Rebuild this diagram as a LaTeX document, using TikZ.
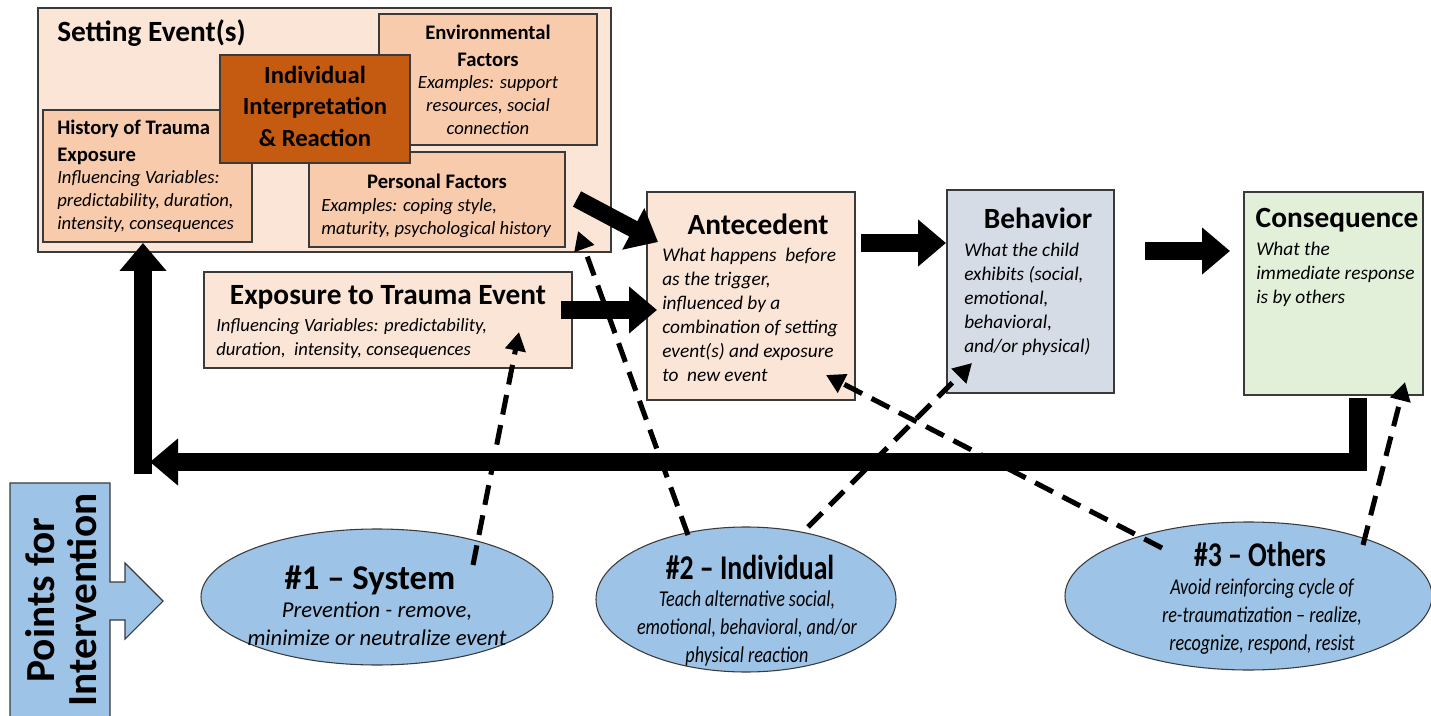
\documentclass[tikz,border=0pt]{standalone}
\usepackage{fontspec}
\setmainfont{Carlito}
\newfontfamily\condfont[FakeStretch=0.8,Ligatures=TeX]{Carlito}
\usetikzlibrary{arrows.meta,shapes.geometric}
\definecolor{peachL}{HTML}{FBE5D6}
\definecolor{peachM}{HTML}{F8CBAD}
\definecolor{rust}{HTML}{C55A11}
\definecolor{grayblue}{HTML}{D6DCE5}
\definecolor{greenL}{HTML}{E2F0D9}
\definecolor{blueE}{HTML}{9DC3E6}
\definecolor{edge}{HTML}{3A3A3A}
\begin{document}
\begin{tikzpicture}[x=0.75pt,y=-0.75pt,
  box/.style={draw=edge,line width=0.8pt,inner sep=0pt,rectangle},
  ell/.style={draw=edge,line width=0.8pt,fill=blueE,ellipse,inner sep=0pt},
  title/.style={font=\fontsize{22}{26}\selectfont\bfseries,inner sep=0pt},
  subhead/.style={font=\fontsize{15.5}{20}\selectfont\bfseries,inner sep=0pt},
  body/.style={font=\fontsize{14}{17.5}\selectfont\itshape,inner sep=0pt},
  bigarrow/.style={line width=13pt,-{Triangle[length=21pt,width=34pt]}},
  dasharrow/.style={line width=3.8pt,dash pattern=on 15pt off 8pt,-{Triangle[length=14pt,width=15pt]}}
]
\useasboundingbox (0,0) rectangle (1431,716);

% Setting events cluster
\node[box,fill=peachL,minimum width=429.75pt,minimum height=183pt] (setting) at (324.5,130) {};
\node[title,anchor=north west] (settingT) at (57,19) {Setting Event(s)};
\node[box,fill=peachM,minimum width=163.5pt,minimum height=98.25pt] (env) at (488,79.5) {};
\node[subhead,anchor=north,align=center] (envT) at (488,25) {Environmental\\Factors};
\node[body,anchor=north,align=center] (envB) at (488,75) {Examples: support\\resources, social\\connection};
\node[box,fill=peachM,minimum width=156.75pt,minimum height=99pt] (hist) at (147.5,176) {};
\node[subhead,anchor=north west,align=left] (histT) at (57,120) {History of Trauma\\Exposure};
\node[body,anchor=north west,align=left] (histB) at (57,170) {Influencing Variables:\\predictability, duration,\\intensity, consequences};
\node[box,fill=peachM,minimum width=192pt,minimum height=71.25pt] (pers) at (437,199.5) {};
\node[subhead,anchor=north] (persT) at (437,174) {Personal Factors};
\node[body,anchor=north west,align=left] (persB) at (321,198) {Examples: coping style,\\maturity, psychological history};
\node[box,fill=rust,minimum width=142.5pt,minimum height=81pt] (indiv) at (315,109) {};
\node[font=\fontsize{18.5}{23.5}\selectfont\bfseries,inner sep=0pt,anchor=north,align=center] (indivT) at (315,66) {Individual\\Interpretation\\\& Reaction};

% Exposure box
\node[box,fill=peachL,minimum width=276pt,minimum height=72pt] (expo) at (388,320) {};
\node[title,anchor=north] (expoT) at (388,285) {Exposure to Trauma Event};
\node[body,anchor=north west,align=left,font=\fontsize{14}{18}\selectfont\itshape] (expoB) at (216,318) {Influencing Variables: predictability,\\duration,\ \ intensity, consequences};

% ABC boxes
\node[box,fill=peachL,minimum width=156pt,minimum height=156pt] (ante) at (751,296) {};
\node[title,anchor=north] (anteT) at (758,214) {Antecedent};
\node[body,anchor=north west,align=left,font=\fontsize{14.5}{18}\selectfont\itshape] (anteB) at (662,248) {What happens\ \ before\\as the trigger,\\influenced by a\\combination of setting\\event(s) and exposure\\to\ \ new event};
\node[box,fill=grayblue,minimum width=125.25pt,minimum height=152.25pt] (beh) at (1030.5,291.5) {};
\node[title,anchor=north] (behT) at (1038,208) {Behavior};
\node[body,anchor=north west,align=left,font=\fontsize{14.5}{18}\selectfont\itshape] (behB) at (964,243) {What the child\\exhibits (social,\\emotional,\\behavioral,\\and/or physical)};
\node[box,fill=greenL,minimum width=134.25pt,minimum height=152.25pt] (cons) at (1333.5,293.5) {};
\node[title,anchor=north] (consT) at (1337,208) {Consequence};
\node[body,anchor=north west,align=left,font=\fontsize{14.5}{18}\selectfont\itshape] (consB) at (1256,242) {What the\\immediate response\\is by others};

% Points for intervention
\fill[blueE] (10,483) -- (110,483) -- (110,582) -- (125,582) -- (125,563) -- (163,601) -- (125,639) -- (125,620) -- (110,620) -- (110,716) -- (10,716) -- cycle;
\draw[edge,line width=0.8pt] (10,716) -- (10,483) -- (110,483) -- (110,582) -- (125,582) -- (125,563) -- (163,601) -- (125,639) -- (125,620) -- (110,620) -- (110,716);
\node[rotate=90,align=center,inner sep=0pt,font=\fontsize{31}{31}\selectfont\bfseries] (pfi) at (61,600) {Points for\\Intervention};

% Ellipses
\node[ell,minimum width=264pt,minimum height=102pt] (sys) at (377,597) {};
\node[inner sep=0pt,anchor=north,font=\fontsize{26}{28}\selectfont\bfseries] (sysT) at (370,566) {\#1 – System};
\node[inner sep=0pt,anchor=north,align=center,font=\fontsize{17}{21}\selectfont\itshape] (sysB) at (377,602) {Prevention - remove,\\minimize or neutralize event};
\node[ell,minimum width=225pt,minimum height=108.75pt] (ind) at (746,599.5) {};
\node[inner sep=0pt,anchor=north,font=\condfont\fontsize{26}{28}\selectfont\bfseries] (indT) at (750,555) {\#2 – Individual};
\node[inner sep=0pt,anchor=north,align=center,font=\condfont\fontsize{17}{21}\selectfont\itshape] (indB) at (747,590) {Teach alternative social,\\emotional, behavioral, and/or\\physical reaction};
\node[ell,minimum width=275.25pt,minimum height=111pt] (oth) at (1248.5,596) {};
\node[inner sep=0pt,anchor=north,font=\condfont\fontsize{26}{28}\selectfont\bfseries] (othT) at (1260,542) {\#3 – Others};
\node[inner sep=0pt,anchor=north,align=center,font=\condfont\fontsize{17}{21}\selectfont\itshape] (othB) at (1262,578) {Avoid reinforcing cycle of\\re-traumatization – realize,\\recognize, respond, resist};

% Coordinates for connectors
\coordinate (a1s) at (577,199);
\coordinate (a1e) at (658,242);
\coordinate (a2s) at (561,310);
\coordinate (a2e) at (657,310);
\coordinate (a3s) at (861,243);
\coordinate (a3e) at (946,243);
\coordinate (a4s) at (1145,251);
\coordinate (a4e) at (1230,251);
\coordinate (fbs) at (1358,398);
\coordinate (fbe) at (150,462);
\coordinate (ups) at (143,474);
\coordinate (upe) at (143,243);
\coordinate (d1s) at (473,565);
\coordinate (d1e) at (519,332);
\coordinate (d2s) at (688,535);
\coordinate (d2e) at (578,231);
\coordinate (d3s) at (808,527);
\coordinate (d3e) at (972,363);
\coordinate (d4s) at (1162,548);
\coordinate (d4e) at (826,375);
\coordinate (d5s) at (1363,545);
\coordinate (d5e) at (1405,382);

% Thick arrows
\draw[bigarrow] (a1s) -- (a1e);
\draw[bigarrow] (a2s) -- (a2e);
\draw[bigarrow] (a3s) -- (a3e);
\draw[bigarrow] (a4s) -- (a4e);
\draw[bigarrow,line join=miter] (fbs) |- (fbe);
\draw[bigarrow] (ups) -- (upe);

% Dashed arrows
\draw[dasharrow] (d1s) -- (d1e);
\draw[dasharrow] (d2s) -- (d2e);
\draw[dasharrow] (d3s) -- (d3e);
\draw[dasharrow] (d4s) -- (d4e);
\draw[dasharrow] (d5s) -- (d5e);
\end{tikzpicture}
\end{document}
